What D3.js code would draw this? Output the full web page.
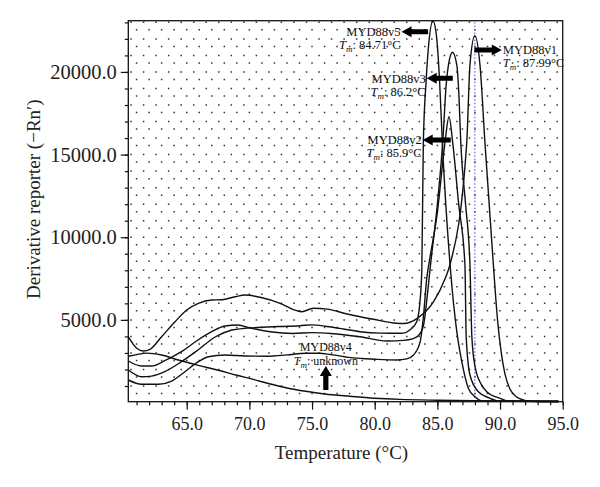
<!DOCTYPE html>
<html><head><meta charset="utf-8">
<script src="https://cdn.jsdelivr.net/npm/d3@7"></script>
<style>body{margin:0;background:#fff}svg{display:block}</style>
</head><body><svg id="c" width="600" height="487"></svg>
<script>
// ---- data ----
const xTicks = [65, 70, 75, 80, 85, 90, 95];
const yTicks = [5000, 10000, 15000, 20000];
const xDomain = [60.34, 95];
const yDomain = [50, 23100];
const tmLine = 87.99;

const v1 = [[60.34,3982],[61.01,3281],[61.54,3117],[62.07,3220],[63.0,3982],[64.07,4890],[65.0,5598],[65.93,6000],[66.99,6203],[67.8,6220],[68.86,6400],[69.66,6505],[70.85,6366],[72.45,6003],[73.78,5556],[74.18,5495],[75.1,5700],[76.2,5650],[77.8,5356],[79.9,5035],[81.76,4793],[82.3,4780],[83.4,5095],[84.7,6100],[85.63,7515],[86.0,8320],[87.34,15680],[87.6,20420],[87.99,22190],[88.4,20420],[88.8,15680],[89.47,8320],[89.8,5000],[90.1,3000],[90.4,1700],[90.8,800],[91.3,350],[91.9,150],[92.5,80],[94.66,60]];
const v5 = [[60.34,1968],[61.4,1562],[62.2,1600],[63.25,1865],[64.58,2470],[65.9,3178],[67.3,3980],[68.6,4388],[69.66,4490],[71.0,4550],[72.5,4600],[74.04,4648],[75.0,4700],[76.17,4600],[77.5,4450],[78.83,4285],[80.5,4200],[81.76,4188],[82.3,4200],[82.8,4390],[83.35,4890],[83.6,6000],[83.76,8100],[83.88,15680],[84.1,19410],[84.28,21430],[84.65,23083],[84.92,22235],[85.18,19410],[85.4,15680],[86.05,8000],[86.55,4285],[86.95,2470],[87.47,860],[88.0,352],[88.6,100],[94.66,60]];
const v3 = [[60.34,2512],[61.4,2210],[62.2,2210],[63.25,2530],[64.58,3075],[65.9,3783],[66.99,4285],[68.05,4630],[69.1,4690],[70.0,4520],[71.65,4285],[73.5,4180],[75.0,4230],[76.5,4180],[78.83,3982],[80.96,3720],[82.3,3760],[83.0,3850],[83.5,4050],[83.9,4690],[84.2,6500],[84.42,8100],[85.0,12000],[85.45,16000],[85.7,19200],[85.95,20700],[86.2,21190],[86.55,20420],[86.73,18400],[86.87,15680],[87.25,12000],[87.6,8320],[87.75,4000],[88.0,2200],[88.5,1100],[88.94,655],[90.0,256],[90.6,100],[94.66,60]];
const v2 = [[60.34,1363],[61.4,1103],[62.74,1103],[63.8,1300],[64.86,1865],[65.93,2470],[66.73,2772],[68.06,2873],[69.66,2813],[71.5,2800],[73.0,2880],[74.5,2978],[75.6,2978],[76.5,2900],[78.3,2700],[80.0,2620],[81.76,2573],[82.56,2640],[83.1,2875],[83.63,3680],[83.9,5295],[84.15,7500],[84.35,8500],[85.0,11500],[85.6,15680],[85.93,17290],[86.23,15680],[86.7,12000],[87.2,8320],[87.3,4000],[87.6,1665],[88.27,655],[89.2,256],[89.8,100],[94.66,60]];
const v4 = [[60.34,2800],[61.0,2900],[61.8,2990],[63.0,2875],[64.33,2573],[65.93,2250],[67.53,1950],[69.0,1650],[70.3,1400],[71.5,1150],[73.0,880],[74.5,680],[76.0,520],[78.0,380],[80.0,260],[82.0,190],[85.0,140],[88.0,110],[94.66,80]];
const seriesList = [v1, v2, v3, v4, v5];

// horizontal arrow annotations: label, Tm text, arrow tip/tail temperature, arrow level
const annNames = ["MYD88v5", "MYD88v1", "MYD88v3", "MYD88v2"];
const annTm = ["84.71", "87.99", "86.2", "85.9"];
const annTip = [82.14, 90.14, 84.15, 83.83];
const annTail = [84.26, 87.95, 86.23, 86.07];
const annLevel = [22435, 21328, 19617, 15883];
// vertical arrow annotation (v4)
const v4Ann = {name: "MYD88v4", tm: "unknown", t: 76.1, tip: 2210, tail: 758};

// ---- layout ----
const W = 600, H = 487;
const m = {l: 128.3, r: 37.3, t: 20.7, b: 85.3};
const svg = d3.select("#c");
const x = d3.scaleLinear().domain(xDomain).range([m.l, W - m.r]);
const y = d3.scaleLinear().domain(yDomain).range([H - m.b, m.t]);
const serif = "'Liberation Serif','Times New Roman',serif";

// dotted grid
const g = svg.append("g");
const degs = d3.range(61, 95);
const levels = d3.range(1000, 24000, 1000).filter(v => v < yDomain[1]);
const pxDeg = x(61) - x(60);
const pxK = y(0) - y(1000);
g.selectAll("line.h").data(levels).join("line")
  .attr("x1", x(xDomain[0])).attr("x2", x(xDomain[1]))
  .attr("y1", d => y(d)).attr("y2", d => y(d))
  .attr("stroke", "#333").attr("stroke-width", 1.5)
  .attr("stroke-dasharray", `1.5 ${pxDeg - 1.5}`)
  .attr("stroke-dashoffset", -(x(60.5 + 1) - x(xDomain[0]) - pxDeg));
g.selectAll("line.v").data(degs).join("line")
  .attr("x1", d => x(d)).attr("x2", d => x(d))
  .attr("y1", y(yDomain[0])).attr("y2", y(yDomain[1]))
  .attr("stroke", "#333").attr("stroke-width", 1.5)
  .attr("stroke-dasharray", `1.5 ${pxK - 1.5}`)
  .attr("stroke-dashoffset", -(y(yDomain[0]) - y(500)));

// blue Tm line
svg.append("line").attr("x1", x(tmLine)).attr("x2", x(tmLine))
  .attr("y1", y(yDomain[0])).attr("y2", y(yDomain[1]))
  .attr("stroke", "#3a4fd0").attr("stroke-width", 1).attr("stroke-dasharray", "1.5 2");

// curves
const line = d3.line().x(d => x(d[0])).y(d => y(d[1])).curve(d3.curveMonotoneX);
svg.append("g").selectAll("path").data(seriesList).join("path")
  .attr("d", line).attr("fill", "none").attr("stroke", "#111").attr("stroke-width", 1.4);

// frame
svg.append("rect").attr("x", m.l).attr("y", m.t)
  .attr("width", W - m.l - m.r).attr("height", H - m.t - m.b)
  .attr("fill", "none").attr("stroke", "#111").attr("stroke-width", 1.3);

// axes
const ax = svg.append("g").attr("transform", `translate(0,${H - m.b})`);
ax.call(d3.axisBottom(x).tickValues(degs.concat([95])).tickSize(3.5).tickFormat(""));
const axMaj = svg.append("g").attr("transform", `translate(0,${H - m.b})`)
  .call(d3.axisBottom(x).tickValues(xTicks).tickSize(8).tickPadding(8).tickFormat(d3.format(".1f")));
const ay = svg.append("g").attr("transform", `translate(${m.l},0)`);
ay.call(d3.axisLeft(y).tickValues(levels).tickSize(3.5).tickFormat(""));
const ayMaj = svg.append("g").attr("transform", `translate(${m.l},0)`)
  .call(d3.axisLeft(y).tickValues(yTicks).tickSize(7.5).tickPadding(4).tickFormat(d3.format(".1f")));
svg.selectAll(".domain").remove();
svg.selectAll(".tick line").attr("stroke", "#111").attr("stroke-width", 1.2);
axMaj.selectAll("text").attr("font-family", serif).attr("font-size", 18).attr("fill", "#222");
ayMaj.selectAll("text").attr("font-family", serif).attr("font-size", 20.5).attr("fill", "#222");

// axis titles
svg.append("text").attr("x", (m.l + W - m.r) / 2 - 4).attr("y", 459)
  .attr("text-anchor", "middle").attr("font-family", serif).attr("font-size", 19).attr("fill", "#222")
  .text("Temperature (°C)");
svg.append("text").attr("transform", `translate(40,${(m.t + H - m.b) / 2 - 12}) rotate(-90)`)
  .attr("text-anchor", "middle").attr("font-family", serif).attr("font-size", 19).attr("fill", "#222")
  .text("Derivative reporter (−Rn′)");

// annotations
const annG = svg.append("g").attr("font-family", serif).attr("fill", "#111");
function hArrow(x0, x1, yy) { // tip at x0
  const dir = x1 > x0 ? 1 : -1, hl = 10, hh = 5.5, bh = 2.5;
  return `M${x0},${yy} L${x0 + dir * hl},${yy - hh} L${x0 + dir * hl},${yy - bh} L${x1},${yy - bh} L${x1},${yy + bh} L${x0 + dir * hl},${yy + bh} L${x0 + dir * hl},${yy + hh} Z`;
}
function tmText(sel, val) {
  sel.append("tspan").attr("font-style", "italic").text("T");
  sel.append("tspan").attr("font-style", "italic").attr("font-size", 9).attr("dy", 3).text("m");
  sel.append("tspan").attr("dy", -3).text(": " + val + (val === "unknown" ? "" : "°C"));
}
annNames.forEach((nm, i) => {
  const tx = x(annTip[i]), tl = x(annTail[i]), yy = y(annLevel[i]);
  annG.append("path").attr("d", hArrow(tx, tl, yy)).attr("fill", "#000");
  const left = tl > tx;
  const anchor = left ? "end" : "start";
  const ox = left ? tx - 1 : tx + 1;
  annG.append("text").attr("x", ox).attr("y", yy + 4.5).attr("text-anchor", anchor)
    .attr("font-size", 12.5).text(nm);
  const t2 = annG.append("text").attr("x", ox).attr("y", yy + 17.5).attr("text-anchor", anchor)
    .attr("font-size", 12.5);
  tmText(t2, annTm[i]);
});
{
  const ax0 = x(v4Ann.t), yt = y(v4Ann.tip), yb = y(v4Ann.tail);
  const hl = 10, hw = 6, bw = 2.6;
  annG.append("path").attr("d",
    `M${ax0},${yt} L${ax0 + hw},${yt + hl} L${ax0 + bw},${yt + hl} L${ax0 + bw},${yb} L${ax0 - bw},${yb} L${ax0 - bw},${yt + hl} L${ax0 - hw},${yt + hl} Z`)
    .attr("fill", "#000");
  annG.append("text").attr("x", ax0).attr("y", yt - 15).attr("text-anchor", "middle")
    .attr("font-size", 12).text(v4Ann.name);
  const t2 = annG.append("text").attr("x", ax0).attr("y", yt - 1).attr("text-anchor", "middle")
    .attr("font-size", 12);
  tmText(t2, v4Ann.tm);
}
</script></body></html>
